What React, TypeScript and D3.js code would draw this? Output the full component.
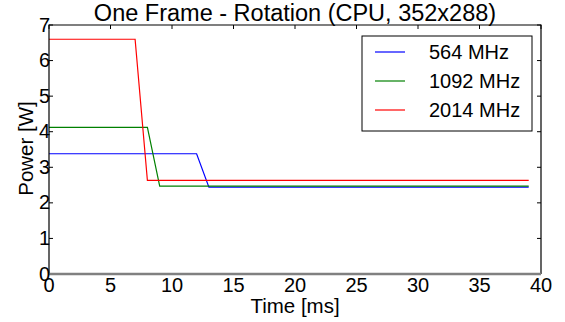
import React, { useEffect, useRef } from "react";
import { select, scaleLinear, line, range } from "d3";

const width = 565;
const height = 322;
const marginLeft = 49;
const marginRight = 24;
const marginTop = 25;
const marginBottom = 48;

const titleText = "One Frame - Rotation (CPU, 352x288)";
const xLabel = "Time [ms]";
const yLabel = "Power [W]";

const xTicks = [0, 5, 10, 15, 20, 25, 30, 35, 40];
const yTicks = [0, 1, 2, 3, 4, 5, 6, 7];

const seriesNames = ["564 MHz", "1092 MHz", "2014 MHz"];
const seriesColors = ["#0000ff", "#008000", "#ff0000"];

const time564 = [0, 12, 13, 39];
const power564 = [3.38, 3.38, 2.44, 2.44];
const time1092 = [0, 8, 9, 39];
const power1092 = [4.12, 4.12, 2.47, 2.47];
const time2014 = [0, 7, 8, 39];
const power2014 = [6.6, 6.6, 2.63, 2.63];

const font = "'Liberation Sans', Arial, sans-serif";

const App = () => {
  const svgRef = useRef(null);

  useEffect(() => {
    const svg = select(svgRef.current);
    svg.selectAll("*").remove();

    const x = scaleLinear().domain([0, 40]).range([marginLeft, width - marginRight]);
    const y = scaleLinear().domain([0, 7]).range([height - marginBottom, marginTop]);

    const series = [
      { t: time564, p: power564 },
      { t: time1092, p: power1092 },
      { t: time2014, p: power2014 },
    ];

    const chartLine = line()
      .x((d) => x(d[0]))
      .y((d) => y(d[1]));

    // ticks, inside
    const tickG = svg.append("g").attr("stroke", "#000").attr("stroke-width", 1);
    yTicks.forEach((v) => {
      tickG.append("line").attr("x1", x(0)).attr("x2", x(0) + 4).attr("y1", y(v)).attr("y2", y(v));
      tickG.append("line").attr("x1", x(40)).attr("x2", x(40) - 4).attr("y1", y(v)).attr("y2", y(v));
    });
    xTicks.forEach((v) => {
      tickG.append("line").attr("x1", x(v)).attr("x2", x(v)).attr("y1", y(7)).attr("y2", y(7) + 4);
    });

    series.forEach((s, i) => {
      svg
        .append("path")
        .datum(range(s.t.length).map((k) => [s.t[k], s.p[k]]))
        .attr("fill", "none")
        .attr("stroke", seriesColors[i])
        .attr("stroke-width", 1.2)
        .attr("d", chartLine);
    });

    // frame
    svg
      .append("path")
      .attr("d", `M${x(0)},${y(0)}V${y(7)}H${x(40)}V${y(0)}`)
      .attr("fill", "none")
      .attr("stroke", "#000")
      .attr("stroke-width", 1.2);
    svg
      .append("line")
      .attr("x1", x(0))
      .attr("x2", x(40))
      .attr("y1", y(0))
      .attr("y2", y(0))
      .attr("stroke", "#808080")
      .attr("stroke-width", 2.5);

    const tickLabels = svg.append("g").attr("font-family", font).attr("font-size", 20).attr("fill", "#000");
    yTicks.forEach((v) => {
      tickLabels
        .append("text")
        .attr("x", x(0) + 1)
        .attr("y", y(v) + 6.5)
        .attr("text-anchor", "end")
        .text(v);
    });
    xTicks.forEach((v) => {
      tickLabels
        .append("text")
        .attr("x", x(v))
        .attr("y", y(0) + 18)
        .attr("text-anchor", "middle")
        .text(v);
    });

    svg
      .append("text")
      .attr("x", (x(0) + x(40)) / 2)
      .attr("y", 21)
      .attr("text-anchor", "middle")
      .attr("font-family", font)
      .attr("font-size", 23.5)
      .text(titleText);

    svg
      .append("text")
      .attr("x", (x(0) + x(40)) / 2)
      .attr("y", 313)
      .attr("text-anchor", "middle")
      .attr("font-family", font)
      .attr("font-size", 20.5)
      .text(xLabel);

    svg
      .append("text")
      .attr("transform", `translate(33,${(y(0) + y(7)) / 2 - 1}) rotate(-90)`)
      .attr("text-anchor", "middle")
      .attr("font-family", font)
      .attr("font-size", 20.5)
      .text(yLabel);

    // legend
    const lg = svg.append("g");
    lg.append("rect")
      .attr("x", 362)
      .attr("y", 36)
      .attr("width", 170)
      .attr("height", 95)
      .attr("fill", "#fff")
      .attr("stroke", "#000")
      .attr("stroke-width", 1);
    seriesNames.forEach((name, i) => {
      const ly = 52 + i * 29;
      lg.append("line")
        .attr("x1", 375)
        .attr("x2", 405)
        .attr("y1", ly)
        .attr("y2", ly)
        .attr("stroke", seriesColors[i])
        .attr("stroke-width", 1.2);
      lg.append("text")
        .attr("x", 429)
        .attr("y", ly + 7)
        .attr("font-family", font)
        .attr("font-size", 20)
        .text(name);
    });
  }, []);

  return (
    <svg
      ref={svgRef}
      width={width}
      height={height}
      style={{ position: "absolute", left: 0, top: 0, background: "#fff" }}
    />
  );
};

export default App;
